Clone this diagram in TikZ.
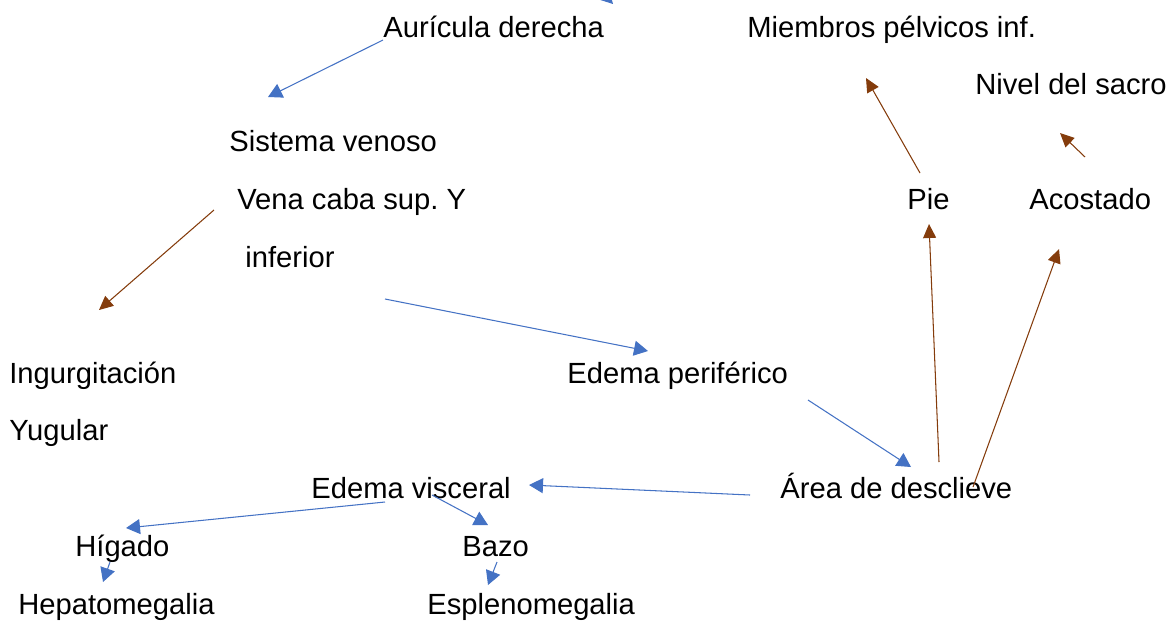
\documentclass[tikz,border=0pt]{standalone}
\usepackage{fontspec}
\setmainfont{Liberation Sans}
\usepackage{tikz}
\usetikzlibrary{positioning,calc,arrows.meta}

\definecolor{flechaazul}{HTML}{4472C4}
\definecolor{flechacafe}{HTML}{843C0C}

\tikzset{
    texto/.style={inner sep=0pt, anchor=base west, font=\fontsize{16.6}{19}\selectfont},
    azul/.style={draw=flechaazul, line width=0.6pt, -{Triangle[length=0.28cm,width=0.3cm]}, flechaazul},
    cafe/.style={draw=flechacafe, line width=0.6pt, -{Triangle[length=0.28cm,width=0.26cm]}, flechacafe}
}

\begin{document}
\begin{tikzpicture}
    % Fix page size
    \useasboundingbox (0,0) rectangle (23.48,-12.46);

    % Draw texts
    \node[texto] (aur) at (7.66,-0.74) {Aurícula derecha};
    \node[texto] (mie) at (14.94,-0.74) {Miembros pélvicos inf.};
    \node[texto] (niv) at (19.50,-1.88) {Nivel del sacro};
    \node[texto] (sis) at (4.58,-3.02) {Sistema venoso};
    \node[texto] (ven) at (4.74,-4.18) {Vena caba sup.\ Y};
    \node[texto] (inf) at (4.90,-5.34) {inferior};
    \node[texto] (pie) at (18.14,-4.18) {Pie};
    \node[texto] (aco) at (20.58,-4.18) {Acostado};
    \node[texto] (ing) at (0.18,-7.66) {Ingurgitación};
    \node[texto] (yug) at (0.18,-8.80) {Yugular};
    \node[texto] (per) at (11.34,-7.66) {Edema periférico};
    \node[texto] (vis) at (6.22,-9.96) {Edema visceral};
    \node[texto] (are) at (15.60,-9.96) {Área de desclieve};
    \node[texto] (hig) at (1.50,-11.12) {Hígado};
    \node[texto] (baz) at (9.24,-11.12) {Bazo};
    \node[texto] (hep) at (0.36,-12.28) {Hepatomegalia};
    \node[texto] (esp) at (8.54,-12.28) {Esplenomegalia};

    % Draw blue arrows
    \coordinate (arriba) at (11.80,0.40);
    \draw[azul] (arriba) -- ([shift={(4.60,0.66)}]aur.base west);
    \draw[azul] ([shift={(0,-0.06)}]aur.base west) -- ([shift={(0.78,1.08)}]sis.base west);
    \draw[azul] ([shift={(2.80,-0.64)}]inf.base west) -- ([shift={(1.62,0.64)}]per.base west);
    \draw[azul] ([shift={(4.82,-0.34)}]per.base west) -- ([shift={(2.62,0.62)}]are.base west);
    \draw[azul] ([shift={(-0.60,0.06)}]are.base west) -- ([shift={(4.36,0.26)}]vis.base west);
    \draw[azul] ([shift={(1.48,-0.08)}]vis.base west) -- ([shift={(1.02,0.56)}]hig.base west);
    \draw[azul] ([shift={(2.42,0.06)}]vis.base west) -- ([shift={(0.52,0.62)}]baz.base west);
    \draw[azul] ([shift={(0.70,-0.12)}]hig.base west) -- ([shift={(1.70,0.64)}]hep.base west);
    \draw[azul] ([shift={(0.70,-0.12)}]baz.base west) -- ([shift={(1.22,0.58)}]esp.base west);

    % Draw brown arrows
    \draw[cafe] ([shift={(-0.46,-0.02)}]ven.base west) -- ([shift={(1.80,1.46)}]ing.base west);
    \draw[cafe] ([shift={(3.18,0.72)}]are.base west) -- ([shift={(0.44,-0.30)}]pie.base west);
    \draw[cafe] ([shift={(3.86,0.22)}]are.base west) -- ([shift={(0.60,-0.80)}]aco.base west);
    \draw[cafe] ([shift={(0.26,0.72)}]pie.base west) -- ([shift={(2.38,-0.82)}]mie.base west);
    \draw[cafe] ([shift={(1.12,1.04)}]aco.base west) -- ([shift={(1.70,-0.78)}]niv.base west);
\end{tikzpicture}
\end{document}
